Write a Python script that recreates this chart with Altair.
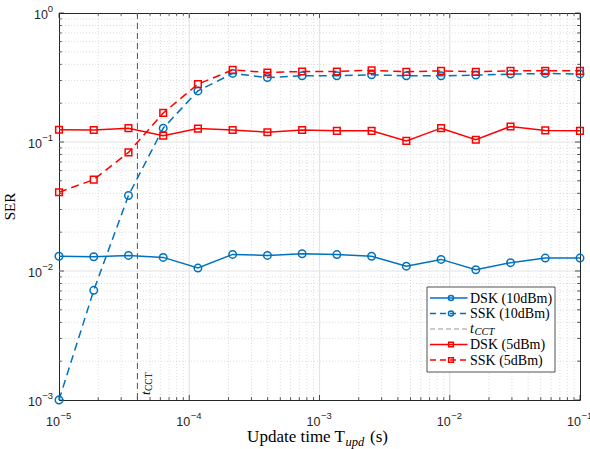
import altair as alt
import pandas as pd

# ---------------- data ----------------
x_vals = [1.0e-5, 1.848e-5, 3.415e-5, 6.310e-5, 1.166e-4, 2.154e-4, 3.981e-4, 7.356e-4,
          1.359e-3, 2.512e-3, 4.642e-3, 8.577e-3, 1.585e-2, 2.929e-2, 5.412e-2, 1.0e-1]
dsk10 = [0.0130, 0.0129, 0.0132, 0.01275, 0.01054, 0.01345, 0.0132, 0.0136,
         0.0134, 0.0130, 0.0109, 0.0123, 0.01023, 0.0116, 0.0126, 0.0126]
ssk10 = [0.0010, 0.00708, 0.0385, 0.128, 0.249, 0.340, 0.316, 0.326,
         0.326, 0.332, 0.326, 0.326, 0.330, 0.336, 0.340, 0.336]
dsk5 = [0.1245, 0.124, 0.128, 0.112, 0.127, 0.124, 0.119, 0.124,
        0.122, 0.122, 0.102, 0.128, 0.104, 0.132, 0.123, 0.122]
ssk5 = [0.0408, 0.0511, 0.0831, 0.168, 0.281, 0.362, 0.346, 0.352,
        0.352, 0.360, 0.350, 0.356, 0.350, 0.356, 0.356, 0.356]
t_cct = [4.0e-5]

x_major = [1e-5, 1e-4, 1e-3, 1e-2, 1e-1]
x_major_exp = ["\u22125", "\u22124", "\u22123", "\u22122", "\u22121"]
y_major = [1e-3, 1e-2, 1e-1, 1.0]
y_major_exp = ["\u22123", "\u22122", "\u22121", "0"]
x_minor = [m * 10.0 ** e for e in (-5, -4, -3, -2) for m in range(2, 10)]
y_minor = [m * 10.0 ** e for e in (-3, -2, -1) for m in range(2, 10)]

W, H = 521, 387
BLUE = "#0072BD"
RED = "#FF0000"
AX = "#262626"
SANS = "Liberation Sans"
SERIF = "Liberation Serif"

xs = alt.Scale(type="log", domain=[1e-5, 1e-1], nice=False, zero=False)
ys = alt.Scale(type="log", domain=[1e-3, 1.0], nice=False, zero=False)


def X(f="x"):
    return alt.X(f"{f}:Q", scale=xs, axis=None)


def Y(f="y"):
    return alt.Y(f"{f}:Q", scale=ys, axis=None)


one = pd.DataFrame({"a": [0]})
layers = []

# ---------------- grid ----------------
layers.append(alt.Chart(pd.DataFrame({"x": x_minor})).mark_rule(
    color="#cfcfcf", strokeWidth=0.7, strokeDash=[1, 2]).encode(
    x=X(), y=alt.value(0), y2=alt.value(H)))
layers.append(alt.Chart(pd.DataFrame({"y": y_minor})).mark_rule(
    color="#cfcfcf", strokeWidth=0.7, strokeDash=[1, 2]).encode(
    y=Y(), x=alt.value(0), x2=alt.value(W)))
layers.append(alt.Chart(pd.DataFrame({"x": x_major[1:-1]})).mark_rule(
    color="#e4e4e4", strokeWidth=1.2).encode(x=X(), y=alt.value(0), y2=alt.value(H)))
layers.append(alt.Chart(pd.DataFrame({"y": y_major[1:-1]})).mark_rule(
    color="#e4e4e4", strokeWidth=1.2).encode(y=Y(), x=alt.value(0), x2=alt.value(W)))

# ---------------- ticks (inward, all four sides) ----------------
for vals, ln in ((x_major, 5), (x_minor, 2.8)):
    d = pd.DataFrame({"x": vals})
    layers.append(alt.Chart(d).mark_rule(color=AX, strokeWidth=0.8).encode(
        x=X(), y=alt.value(H), y2=alt.value(H - ln)))
    layers.append(alt.Chart(d).mark_rule(color=AX, strokeWidth=0.8).encode(
        x=X(), y=alt.value(0), y2=alt.value(ln)))
for vals, ln in ((y_major, 5), (y_minor, 2.8)):
    d = pd.DataFrame({"y": vals})
    layers.append(alt.Chart(d).mark_rule(color=AX, strokeWidth=0.8).encode(
        y=Y(), x=alt.value(0), x2=alt.value(ln)))
    layers.append(alt.Chart(d).mark_rule(color=AX, strokeWidth=0.8).encode(
        y=Y(), x=alt.value(W), x2=alt.value(W - ln)))


# ---------------- series ----------------
def series(vals, color, dash, shape, size):
    d = pd.DataFrame({"x": x_vals, "y": vals})
    line_kw = dict(color=color, strokeWidth=1.5)
    if dash:
        line_kw["strokeDash"] = dash
    ln = alt.Chart(d).mark_line(**line_kw).encode(x=X(), y=Y())
    pt = alt.Chart(d).mark_point(shape=shape, filled=False, color=color,
                                 strokeWidth=1.5, size=size, opacity=1).encode(x=X(), y=Y())
    return [ln, pt]


layers += series(dsk10, BLUE, None, "circle", 56)
layers += series(ssk10, BLUE, [8, 5], "circle", 56)
layers.append(alt.Chart(pd.DataFrame({"x": t_cct})).mark_rule(
    color="#555555", strokeWidth=1, strokeDash=[6, 4]).encode(
    x=X(), y=alt.value(0), y2=alt.value(H)))
layers += series(dsk5, RED, None, "square", 44)
layers += series(ssk5, RED, [8, 5], "square", 44)

# t_CCT annotation (rotated)
dct = pd.DataFrame({"x": t_cct})
layers.append(alt.Chart(dct).mark_text(
    text="t", font=SERIF, fontSize=13, fontStyle="italic", angle=270,
    align="left", baseline="alphabetic", dx=0, dy=12.5, color="#000").encode(
    x=X(), y=alt.value(H - 5)))
layers.append(alt.Chart(dct).mark_text(
    text="CCT", font=SERIF, fontSize=9.5, angle=270,
    align="left", baseline="alphabetic", dx=4, dy=15, color="#000").encode(
    x=X(), y=alt.value(H - 5)))

# ---------------- tick labels ----------------
dxl = pd.DataFrame({"x": x_major, "e": x_major_exp})
layers.append(alt.Chart(dxl).mark_text(
    text="10", font=SANS, fontSize=12.5, align="right", baseline="middle",
    dx=1, color=AX).encode(x=X(), y=alt.value(H + 21.5)))
layers.append(alt.Chart(dxl).mark_text(
    font=SANS, fontSize=9.5, align="left", baseline="middle", dx=1.5, color=AX).encode(
    x=X(), y=alt.value(H + 15.5), text="e:N"))

dyl = pd.DataFrame({"y": y_major, "e": y_major_exp})
neg = "datum.e != '0'"
pos = "datum.e == '0'"
layers.append(alt.Chart(dyl).transform_filter(neg).mark_text(
    text="10", font=SANS, fontSize=12.5, align="right", baseline="middle",
    dy=1.5, color=AX).encode(y=Y(), x=alt.value(-17)))
layers.append(alt.Chart(dyl).transform_filter(pos).mark_text(
    text="10", font=SANS, fontSize=12.5, align="right", baseline="middle",
    dy=1.5, color=AX).encode(y=Y(), x=alt.value(-11)))
layers.append(alt.Chart(dyl).mark_text(
    font=SANS, fontSize=9.5, align="right", baseline="middle",
    dy=-4, color=AX).encode(y=Y(), x=alt.value(-6), text="e:N"))


# ---------------- axis titles ----------------
def txt(text, x, y, size, font=SERIF, style="normal", align="left",
        baseline="alphabetic", angle=0, color="#000"):
    return alt.Chart(one).mark_text(
        text=text, font=font, fontSize=size, fontStyle=style, align=align,
        baseline=baseline, angle=angle, color=color).encode(
        x=alt.value(x), y=alt.value(y))


TX = 286
layers.append(txt("Update time T", TX, 429, 17, align="right"))
layers.append(txt("upd", TX + 0.5, 432.5, 12.5, style="italic"))
layers.append(txt("(s)", TX + 25, 429, 17))
layers.append(txt("SER", -49, H / 2, 15, align="center", baseline="middle", angle=270))

# ---------------- legend ----------------
LX0, LX1, LY0, LY1 = 368, 496, 274, 359
layers.append(alt.Chart(one).mark_rect(fill="white", stroke=AX, strokeWidth=0.8).encode(
    x=alt.value(LX0), x2=alt.value(LX1), y=alt.value(LY0), y2=alt.value(LY1)))

rows = [285, 300.5, 316, 331.5, 347]
entries = [
    ("DSK (10dBm)", BLUE, None, "circle", 26),
    ("SSK (10dBm)", BLUE, [6, 4], "circle", 26),
    (None, "#9a9a9a", [5, 3], None, 0),
    ("DSK (5dBm)", RED, None, "square", 22),
    ("SSK (5dBm)", RED, [6, 4], "square", 22),
]
for (label, color, dash, shape, size), ry in zip(entries, rows):
    kw = dict(color=color, strokeWidth=1.5 if shape else 1.2)
    if dash:
        kw["strokeDash"] = dash
    layers.append(alt.Chart(one).mark_rule(**kw).encode(
        x=alt.value(371), x2=alt.value(408.5), y=alt.value(ry)))
    if shape:
        layers.append(alt.Chart(one).mark_point(
            shape=shape, filled=False, color=color, strokeWidth=1.5, size=size,
            opacity=1).encode(x=alt.value(392), y=alt.value(ry)))
        layers.append(txt(label, 411, ry + 0.5, 14, baseline="middle"))
    else:
        layers.append(txt("t", 411, ry, 14, style="italic", baseline="middle"))
        layers.append(txt("CCT", 415.5, ry + 3, 10.5, style="italic", baseline="middle"))

chart = alt.layer(*layers).properties(
    width=W, height=H,
    padding={"left": 59, "top": 13, "right": 10, "bottom": 49},
    autosize=alt.AutoSizeParams(type="none"),
).configure_view(stroke=AX, strokeWidth=1)

chart.save("out.html", embed_options={"renderer": "svg", "actions": False})
